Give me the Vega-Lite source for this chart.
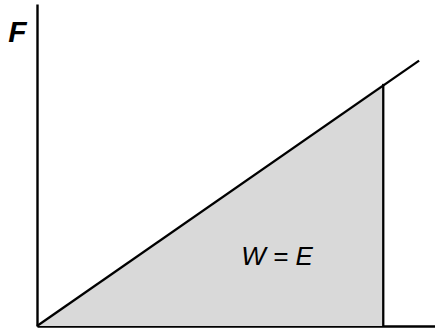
{
  "$schema": "https://vega.github.io/schema/vega-lite/v6.json",
  "width": 398,
  "height": 322,
  "autosize": "none",
  "padding": {"left": 37, "top": 4, "right": 0, "bottom": 7},
  "background": "white",
  "config": {"view": {"stroke": null}, "font": "Liberation Sans"},
  "datasets": {
    "area": [{"x": 0, "y": 0}, {"x": 87, "y": 75.2}],
    "line": [{"x": 0, "y": 0}, {"x": 96, "y": 82.4}],
    "rule": [{"x": 87, "y": 0, "y2": 75.2}],
    "label": [{"x": 60.3, "y": 21.5, "t": "W = E"}]
  },
  "layer": [
    {
      "data": {"name": "area"},
      "mark": {"type": "area", "color": "#d9d9d9", "opacity": 1},
      "encoding": {
        "x": {"field": "x", "type": "quantitative", "scale": {"domain": [0, 100]},
          "axis": {"domain": true, "domainColor": "black", "domainWidth": 2.4, "ticks": false, "labels": false, "grid": false, "title": null}},
        "y": {"field": "y", "type": "quantitative", "scale": {"domain": [0, 100]},
          "axis": {"domain": true, "domainColor": "black", "domainWidth": 2.4, "ticks": false, "labels": false, "grid": false,
            "title": "F", "titleAngle": 0, "titleX": -20, "titleY": 37, "titleBaseline": "alphabetic", "titleFontSize": 30, "titleFontWeight": "bold", "titleFontStyle": "italic", "titleColor": "black", "titleFont": "Liberation Sans", "titleAlign": "center"}}
      }
    },
    {
      "data": {"name": "line"},
      "mark": {"type": "line", "color": "black", "strokeWidth": 2.3},
      "encoding": {
        "x": {"field": "x", "type": "quantitative"},
        "y": {"field": "y", "type": "quantitative"}
      }
    },
    {
      "data": {"name": "rule"},
      "mark": {"type": "rule", "color": "black", "strokeWidth": 2.3},
      "encoding": {
        "x": {"field": "x", "type": "quantitative"},
        "y": {"field": "y", "type": "quantitative"},
        "y2": {"field": "y2"}
      }
    },
    {
      "data": {"name": "label"},
      "mark": {"type": "text", "fontSize": 26, "fontStyle": "italic", "color": "black", "align": "center", "baseline": "middle"},
      "encoding": {
        "x": {"field": "x", "type": "quantitative"},
        "y": {"field": "y", "type": "quantitative"},
        "text": {"field": "t"}
      }
    }
  ]
}
